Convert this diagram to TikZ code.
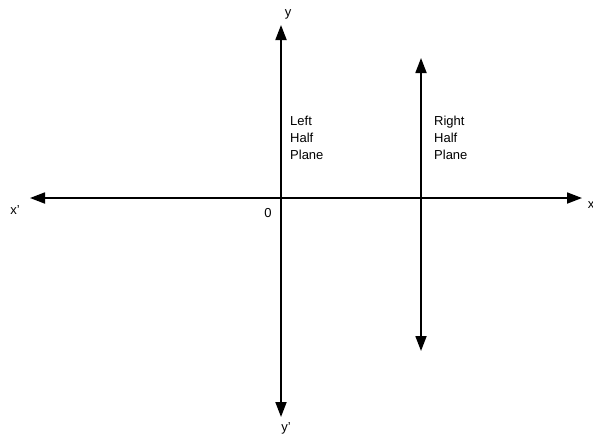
\documentclass[tikz,border=0pt]{standalone}
\usepackage{fontspec}
\setmainfont{Liberation Sans}
\usetikzlibrary{arrows.meta}
\begin{document}
\begin{tikzpicture}[x=1pt,y=-1pt,
  axis/.style={line width=1.8pt,{Triangle[length=15pt,width=11pt]}-{Triangle[length=15pt,width=11pt]}},
  lbl/.style={font=\fontsize{13}{16}\selectfont,inner sep=0pt},
  blk/.style={font=\fontsize{13}{17}\selectfont,inner sep=0pt,align=left,anchor=north west}]
\useasboundingbox (0,0) rectangle (593,437);
\coordinate (xl) at (30,198);
\coordinate (xr) at (582,198);
\coordinate (yt) at (281,25);
\coordinate (yb) at (281,417);
\coordinate (rt) at (421,58);
\coordinate (rb) at (421,351);
\draw[axis] (xl) -- (xr);
\draw[axis] (yb) -- (yt);
\draw[axis] (rb) -- (rt);
\node[lbl] (xp) at (15,210) {x'};
\node[lbl] (x) at (591,205) {x};
\node[lbl] (y) at (288,14) {y};
\node[lbl] (yp) at (286,428) {y'};
\node[lbl] (o) at (268,213) {0};
\node[blk] (lhp) at (290,116) {Left\\Half\\Plane};
\node[blk] (rhp) at (434,116) {Right\\Half\\Plane};
\end{tikzpicture}
\end{document}
